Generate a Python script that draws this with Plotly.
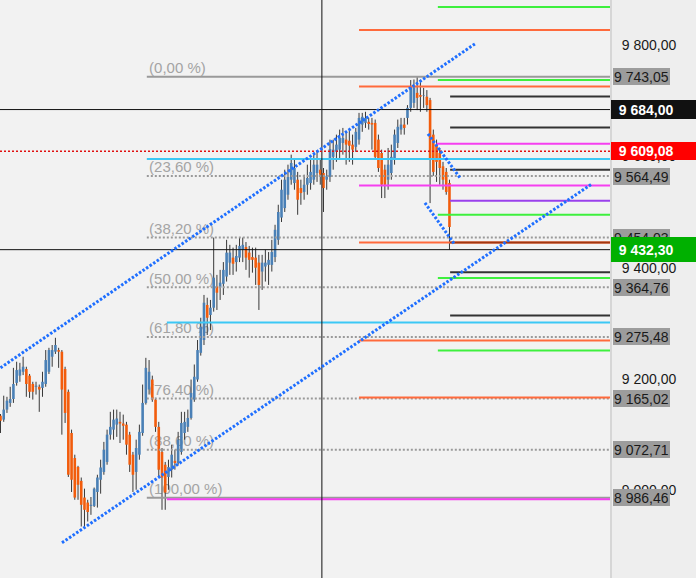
import plotly.graph_objects as go

# ---------------- candle data (price) ----------------
opens = [9134, 9127, 9145, 9157, 9164, 9193, 9206, 9213, 9218, 9206,
         9191, 9186, 9186, 9184, 9191, 9213, 9240, 9249, 9252, 9249,
         9218, 9177, 9103, 9058, 9042, 9017, 8987, 8978, 8972, 8972,
         8997, 9019, 9033, 9051, 9100, 9109, 9118, 9123, 9120, 9118,
         9100, 9064, 9033, 9064, 9103, 9157, 9181, 9199, 9163, 9114,
         9069, 9046, 9024, 9037, 9053, 9049, 9069, 9103, 9114, 9130,
         9163, 9199, 9247, 9270, 9333, 9315, 9328, 9366, 9364, 9371,
         9384, 9409, 9418, 9410, 9418, 9432, 9437, 9427, 9419, 9418,
         9409, 9393, 9402, 9405, 9405, 9419, 9450, 9490, 9507, 9531,
         9558, 9552, 9558, 9543, 9536, 9549, 9552, 9558, 9570, 9576,
         9570, 9558, 9563, 9599, 9608, 9612, 9624, 9630, 9628, 9621,
         9617, 9630, 9657, 9660, 9662, 9660, 9660, 9630, 9606, 9576,
         9558, 9570, 9597, 9624, 9648, 9657, 9669, 9687, 9696, 9714,
         9710, 9709, 9707, 9701, 9639, 9621, 9606, 9582, 9572, 9552]
highs = [9137, 9170, 9168, 9186, 9220, 9231, 9229, 9240, 9222, 9209,
         9195, 9195, 9190, 9213, 9252, 9256, 9261, 9274, 9256, 9252,
         9222, 9181, 9109, 9064, 9044, 9023, 9003, 8983, 8988, 9005,
         9028, 9055, 9087, 9109, 9141, 9145, 9145, 9141, 9136, 9123,
         9105, 9069, 9091, 9118, 9190, 9238, 9234, 9206, 9166, 9123,
         9076, 9051, 9055, 9082, 9073, 9105, 9141, 9141, 9145, 9199,
         9226, 9270, 9310, 9351, 9346, 9342, 9454, 9387, 9396, 9410,
         9450, 9441, 9436, 9441, 9454, 9454, 9446, 9439, 9436, 9436,
         9423, 9423, 9432, 9428, 9450, 9477, 9513, 9558, 9576, 9585,
         9603, 9597, 9572, 9558, 9567, 9585, 9594, 9603, 9608, 9594,
         9579, 9576, 9630, 9630, 9639, 9648, 9651, 9644, 9648, 9639,
         9651, 9678, 9678, 9680, 9669, 9669, 9666, 9639, 9612, 9585,
         9615, 9621, 9648, 9666, 9669, 9669, 9692, 9737, 9738, 9743.05,
         9737, 9723, 9719, 9705, 9648, 9630, 9615, 9590, 9579, 9558]
lows = [9103, 9123, 9139, 9150, 9157, 9188, 9195, 9207, 9168, 9166,
        9163, 9172, 9141, 9168, 9186, 9209, 9222, 9245, 9220, 9100,
        9121, 9024, 8997, 8983, 8983, 8935, 8933, 8944, 8956, 8970,
        8969, 8994, 9028, 9046, 9091, 9091, 9096, 9085, 9091, 9064,
        9033, 8997, 9001, 9055, 9098, 9154, 9172, 9159, 9105, 9024,
        8965, 8965, 9001, 9023, 9037, 9046, 9064, 9091, 9105, 9127,
        9159, 9195, 9242, 9261, 9279, 9288, 9321, 9324, 9342, 9351,
        9375, 9387, 9387, 9393, 9410, 9410, 9396, 9382, 9391, 9369,
        9324, 9360, 9375, 9369, 9393, 9410, 9441, 9482, 9500, 9522,
        9549, 9540, 9495, 9513, 9522, 9531, 9540, 9549, 9554, 9549,
        9500, 9540, 9554, 9576, 9590, 9594, 9603, 9585, 9590, 9585,
        9608, 9621, 9644, 9651, 9648, 9612, 9594, 9572, 9525, 9525,
        9540, 9558, 9585, 9615, 9639, 9639, 9657, 9680, 9687, 9683,
        9680, 9687, 9680, 9516, 9565, 9554, 9549, 9540, 9531, 9432.3]
closes = [9125, 9145, 9161, 9164, 9191, 9216, 9217, 9222, 9191, 9177,
          9177, 9188, 9181, 9195, 9234, 9252, 9252, 9261, 9249, 9181,
          9139, 9028, 9019, 8987, 9010, 8974, 8965, 8961, 8974, 9003,
          9023, 9041, 9073, 9100, 9114, 9127, 9129, 9120, 9116, 9082,
          9046, 9028, 9076, 9105, 9157, 9220, 9213, 9163, 9114, 9037,
          9023, 8996, 9042, 9064, 9049, 9091, 9121, 9123, 9130, 9175,
          9204, 9252, 9294, 9337, 9310, 9328, 9382, 9355, 9373, 9396,
          9427, 9427, 9407, 9421, 9439, 9441, 9418, 9414, 9414, 9400,
          9369, 9409, 9409, 9414, 9428, 9468, 9500, 9540, 9558, 9563,
          9588, 9579, 9522, 9534, 9549, 9561, 9572, 9585, 9585, 9567,
          9543, 9565, 9613, 9612, 9621, 9633, 9633, 9621, 9619, 9612,
          9644, 9669, 9671, 9669, 9658, 9657, 9599, 9579, 9549, 9549,
          9585, 9599, 9639, 9653, 9657, 9651, 9687, 9725, 9725, 9705,
          9707, 9710, 9692, 9597, 9572, 9590, 9579, 9558, 9536, 9473]

# ---------------- Fibonacci retracement ----------------
fib_levels = [9743.05, 9564.49, 9454.03, 9364.76, 9275.48, 9165.02, 9072.71, 8986.46]
fib_names = ["(0,00 %)", "(23,60 %)", "(38,20 %)", "(50,00 %)",
             "(61,80 %)", "(76,40 %)", "(88,60 %)", "(100,00 %)"]
fib_start = 45.3
fib_label_x = 46.0

# ---------------- horizontal drawing lines ----------------
h_prices = [9868.4, 9827.1, 9737.3, 9725.3, 9707.3, 9651.7, 9622.4, 9595.4,
            9575.7, 9547.5, 9520.0, 9494.9, 9445.0, 9445.0, 9391.9, 9381.2,
            9314.0, 9301.5, 9269.1, 9251.2, 9166.7, 8984.0]
h_starts = [135.4, 111.0, 135.4, 111.0, 139.2, 139.2, 135.0, 45.3,
            139.2, 111.0, 139.2, 135.4, 111.0, 139.2, 139.2, 135.4,
            139.2, 51.5, 111.0, 135.4, 111.0, 51.5]
h_colors = ["#3ef03e", "#ff6a3c", "#3ef03e", "#ff6a3c", "#333333", "#333333", "#f53ff0", "#3cc8f5",
            "#333333", "#f53ff0", "#9a40ec", "#3ef03e", "#ff6a3c", "#a0360f", "#333333", "#3ef03e",
            "#333333", "#3cc8f5", "#ff6a3c", "#3ef03e", "#ff6a3c", "#f53ff0"]

black_levels = [9684.00, 9432.30]
red_level = 9609.08
cross_x = 99.5

# ---------------- channel trend lines (index, price) ----------------
ch_x0 = [0.0, 19.04, 132.35, 131.4]
ch_y0 = [9220.1, 8905.8, 9640.3, 9516.4]
ch_x1 = [146.9, 183.1, 142.26, 140.7]
ch_y1 = [9802.0, 9550.5, 9561.3, 9441.0]

y_ticks = [9000, 9200, 9400, 9600, 9800]

X_MIN, X_MAX = -0.155, 188.7
Y_MIN, Y_MAX = 8842.5, 9880.8

FONT = "Liberation Sans, Arial, sans-serif"
BLUE = "#4a80b6"
ORANGE = "#f25c0c"


def fmt(v):
    return format(v, ",.2f").replace(",", " ").replace(".", ",")


idx = list(range(len(opens)))
fig = go.Figure()

# fib labels (drawn under candles)
fig.add_trace(go.Scatter(
    x=[fib_label_x] * len(fib_levels), y=fib_levels, mode="text", text=fib_names,
    textposition="top right", textfont=dict(family=FONT, size=15, color="#a4a4a4"),
    hoverinfo="skip", cliponaxis=False))

# wicks
wx, wy = [], []
for i in idx:
    wx += [i, i, None]
    wy += [lows[i], highs[i], None]
fig.add_trace(go.Scatter(x=wx, y=wy, mode="lines", line=dict(color="#383838", width=1),
                         hoverinfo="skip"))

# bodies (open -> close), one trace per colour
for up, col in ((True, BLUE), (False, ORANGE)):
    bx, by = [], []
    for i in idx:
        if (closes[i] >= opens[i]) == up:
            bx += [i, i, None]
            by += [opens[i], closes[i], None]
    fig.add_trace(go.Scatter(x=bx, y=by, mode="lines", line=dict(color=col, width=2.6),
                             hoverinfo="skip"))

shapes = []
# fib lines
for k, lv in enumerate(fib_levels):
    solid = k in (0, len(fib_levels) - 1)
    shapes.append(dict(type="line", xref="x", yref="y", x0=fib_start, x1=X_MAX, y0=lv, y1=lv,
                       line=dict(color="#9a9a9a", width=2, dash="solid" if solid else "2px,2px")))
# colored lines
for p, s, col in zip(h_prices, h_starts, h_colors):
    shapes.append(dict(type="line", xref="x", yref="y", x0=s, x1=X_MAX, y0=p, y1=p,
                       line=dict(color=col, width=2)))
# black lines
for lv in black_levels:
    shapes.append(dict(type="line", xref="x", yref="y", x0=X_MIN, x1=X_MAX, y0=lv, y1=lv,
                       line=dict(color="#111111", width=1)))
shapes.append(dict(type="line", xref="x", yref="paper", x0=cross_x, x1=cross_x, y0=0, y1=1,
                   line=dict(color="#111111", width=1)))
# red dotted
shapes.append(dict(type="line", xref="x", yref="y", x0=X_MIN, x1=X_MAX, y0=red_level, y1=red_level,
                   line=dict(color="#e01010", width=1.5, dash="2px,2px")))
# channels
for a, b, c, d in zip(ch_x0, ch_y0, ch_x1, ch_y1):
    shapes.append(dict(type="line", xref="x", yref="y", x0=a, y0=b, x1=c, y1=d,
                       line=dict(color="#1f6fff", width=3, dash="2.5px,1.8px")))

annotations = []
for lv in fib_levels:
    annotations.append(dict(xref="paper", x=1, xanchor="left", xshift=3, yref="y", y=lv,
                            yanchor="middle", text=fmt(lv), showarrow=False,
                            font=dict(family=FONT, size=14, color="#1a1a1a"),
                            bgcolor="#9c9c9c", borderpad=1, borderwidth=0, height=15))

box_levels = [9684.00, 9609.08, 9432.30]
box_colors = ["#111111", "#ff0000", "#00b000"]
box_heights = [19, 18, 25]
for lv, col, hgt in zip(box_levels, box_colors, box_heights):
    annotations.append(dict(xref="paper", x=1, xanchor="left", xshift=1, yref="y", y=lv,
                            yanchor="middle", text="\u00a0\u00a0<b>" + fmt(lv) + "</b>",
                            showarrow=False, align="left", width=85, height=hgt,
                            font=dict(family=FONT, size=14, color="#ffffff"),
                            bgcolor=col, borderpad=0, borderwidth=0))

fig.update_layout(
    width=696, height=578, margin=dict(l=0, r=86, t=0, b=0),
    paper_bgcolor="#eeeeee", plot_bgcolor="#f2f2f2",
    showlegend=False, separators=", ", hovermode=False,
    xaxis=dict(range=[X_MIN, X_MAX], visible=False,
               showgrid=False, zeroline=False),
    yaxis=dict(range=[Y_MIN, Y_MAX], side="right", tickvals=y_ticks, tickformat=",.2f",
               showgrid=False, zeroline=False, showline=True, linecolor="#d6d6d6", linewidth=2,
               ticks="outside", ticklen=7, tickcolor="rgba(0,0,0,0)",
               tickfont=dict(family=FONT, size=14, color="#1a1a1a")),
    shapes=shapes, annotations=annotations,
)

fig.write_html("out.html", config={"displayModeBar": False})

# remove the default page margin so the figure sits at the window's top-left corner
with open("out.html", "r", encoding="utf-8") as fh:
    html = fh.read()
html = html.replace("<head>", "<head><style>html,body{margin:0;padding:0;overflow:hidden;}</style>", 1)
with open("out.html", "w", encoding="utf-8") as fh:
    fh.write(html)
